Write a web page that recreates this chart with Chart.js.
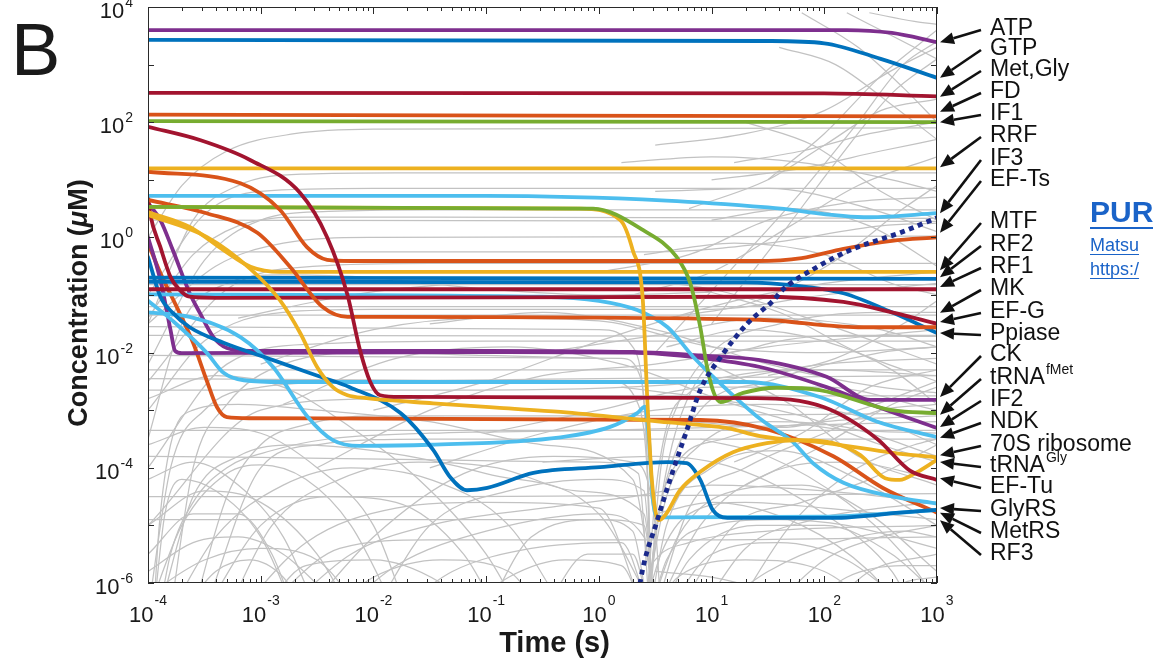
<!DOCTYPE html>
<html><head><meta charset="utf-8">
<script src="https://cdn.jsdelivr.net/npm/chart.js@4.4.1/dist/chart.umd.min.js"></script>
<style>html,body{margin:0;padding:0;background:#fff;overflow:hidden}#wrap{position:relative;width:1153px;height:663px}</style>
</head><body><div id="wrap"><canvas id="c" width="1153" height="663"></canvas></div>
<script>
// All series points are [log10(time in s), log10(concentration in µM)].
const atp     = [[-4,3.60],[2.2,3.60],[2.6,3.55],[3,3.39]];
const gtp     = [[-4,3.43],[1.5,3.41],[2,3.37],[2.5,3.1],[3,2.77]];
const metGly  = [[-4,2.51],[2,2.5],[3,2.45]];
const fdS     = [[-4,2.13],[3,2.10]];
const if1S    = [[-4,2.02],[3,2.0]];
const efTu    = [[-4,1.92],[-3.54,1.69],[-3.09,1.34],[-2.65,0.77],[-2.41,0.0],[-2.23,-1.0],[-2.12,-1.95],[-2.03,-2.5],[-1.94,-2.74],[-1.76,-2.77],[1.4,-2.79],[2.0,-2.95],[2.47,-3.5],[2.76,-4.05],[3,-4.21]];
const rrf     = [[-4,1.20],[3,1.20]];
const efTs    = [[-4,1.14],[-3.18,0.94],[-2.83,0.48],[-2.59,-0.17],[-2.41,-0.39],[-2.2,-0.41],[1.4,-0.41],[1.8,-0.36],[2.17,-0.2],[2.6,-0.06],[3,0.0]];
const if3     = [[-4,0.72],[-1,0.72],[0.6,0.64],[1.5,0.52],[2.4,0.35],[3,0.42]];
const tRNAGly = [[-4,0.53],[-0.17,0.50],[0.19,0.30],[0.30,-0.22],[0.39,-1.09],[0.43,-2.82],[0.47,-4.21],[0.53,-4.91],[0.59,-4.82],[0.72,-4.39],[0.9,-4.07],[1.19,-3.73],[1.49,-3.57],[1.79,-3.52],[2.08,-3.57],[2.32,-3.78],[2.54,-4.18],[2.67,-4.21],[2.81,-4.09],[3,-3.86]];
const tRNAfMet= [[-4,0.53],[-0.05,0.50],[0.39,0.13],[0.69,-0.34],[0.81,-0.79],[0.90,-1.56],[0.96,-2.25],[1.02,-2.70],[1.08,-2.86],[1.28,-2.70],[1.58,-2.61],[1.96,-2.65],[2.6,-3.0],[3,-3.05]];
const efG     = [[-4,0.65],[-3.48,0.42],[-3.03,0.08],[-2.74,-0.51],[-2.45,-1.21],[-2.23,-1.38],[-2.0,-1.38],[1.43,-1.43],[2.3,-1.56],[3,-1.56]];
const mtf     = [[-4,0.44],[-3.63,0.18],[-3.33,-0.22],[-3.09,-0.51],[-2.83,-0.60],[3,-0.60]];
const ribo70S = [[-4,0.39],[-3.48,0.01],[-3.09,-0.55],[-2.83,-1.09],[-2.65,-1.66],[-2.50,-2.25],[-2.36,-2.60],[-2.23,-2.74],[-2.06,-2.79],[-1.47,-2.88],[-0.88,-2.96],[-0.34,-3.03],[0.54,-3.2],[1.14,-3.31],[1.43,-3.45],[2.02,-3.57],[2.61,-3.74],[3,-3.82]];
const mk      = [[-4,0.7],[-3.98,0.4],[-3.89,-0.17],[-3.80,-0.69],[-3.72,-0.91],[-3.63,-1.03],[-3.4,-1.05],[1.4,-1.03],[2.17,-1.12],[2.6,-1.3],[3,-1.5]];
const rf1     = [[-4,-0.90],[3,-0.90]];
const rf2     = [[-4,-0.70],[3,-0.72]];
const ppiase  = [[-4,-0.77],[1.3,-0.78],[1.8,-0.85],[2.17,-0.97],[2.61,-1.31],[3,-1.66]];
const glyRS   = [[-4,-0.34],[-3.89,-1.03],[-3.78,-1.31],[-3.63,-1.56],[-3.33,-1.83],[-2.89,-2.13],[-2.47,-2.42],[-2.21,-2.6],[-1.76,-3.05],[-1.47,-3.69],[-1.32,-4.16],[-1.17,-4.39],[-0.99,-4.35],[-0.58,-4.09],[0.01,-3.99],[0.61,-3.90],[0.78,-3.92],[0.90,-4.21],[1.01,-4.73],[1.14,-4.87],[2.08,-4.87],[2.67,-4.78],[3,-4.73]];
const ndk     = [[-4,-1.1],[-3.78,-1.45],[-3.48,-2.0],[-3.33,-2.35],[-3.15,-2.48],[-2.8,-2.51],[1.3,-2.51],[1.96,-2.77],[2.47,-3.2],[3,-3.47]];
const metRS   = [[-4,-1.3],[-3.63,-1.38],[-3.18,-1.73],[-2.89,-2.25],[-2.59,-3.10],[-2.36,-3.52],[-2.12,-3.62],[-1.5,-3.60],[-0.34,-3.47],[0.10,-3.29],[0.34,-3.05],[0.41,-2.94],[0.44,-3.4],[0.48,-4.56],[0.52,-4.85],[0.6,-4.86],[2.0,-4.85],[2.67,-4.78],[3,-4.73]];
const rf3     = [[-4,-0.99],[-0.5,-1.03],[0.0,-1.1],[0.34,-1.26],[0.61,-1.56],[0.84,-2.08],[1.14,-2.65],[1.43,-3.15],[1.72,-3.55],[1.9,-3.92],[2.17,-4.26],[2.61,-4.5],[3,-4.62]];
const ck      = [[-4,0.6],[-3.89,0.30],[-3.78,-0.22],[-3.63,-0.97],[-3.54,-1.31],[-3.42,-1.73],[-3.30,-1.92],[-3.1,-1.97],[-1,-1.97],[0.3,-1.99],[0.9,-2.05],[1.43,-2.13],[2.02,-2.42],[2.41,-2.82],[3,-2.82]];
const if2     = [[-4,0.0],[-3.89,-0.74],[-3.80,-1.61],[-3.76,-1.97],[-3.7,-2.01],[-1,-1.99],[0.3,-2.0],[0.9,-2.09],[1.43,-2.25],[2.02,-2.6],[2.47,-2.94],[3,-3.31]];
const metRS2  = [[-4,-0.10],[-3.89,-0.62],[-3.72,-1.31],[-3.6,-1.83],[-3.48,-2.48],[-3.39,-2.94],[-3.30,-3.12],[-3.1,-3.14],[0.9,-3.17],[1.49,-3.33],[2.08,-3.8],[2.52,-4.35],[3,-4.78]];
const product = [[0.30,-7],[0.37,-5.95],[0.52,-4.9],[0.66,-4.04],[0.78,-3.35],[0.90,-2.65],[1.08,-2.08],[1.32,-1.49],[1.55,-1.09],[1.63,-0.91],[1.94,-0.51],[2.23,-0.22],[2.67,0.08],[3,0.34]];

// other species (grey)
const greyCurves = [
[[-4,0.0],[-3.7,0.9],[-3.3,1.5],[-2.7,1.8],[-2,1.88],[3,1.9]],
[[-4,-1.5],[-3.6,0.3],[-3.2,0.9],[-2.6,1.1],[-1.8,1.12],[3,1.12]],
[[-4,-2.2],[-3.5,-0.4],[-3,0.3],[-2.4,0.45],[-1.5,0.48],[3,0.48]],
[[-4,0.3],[3,0.28]],
[[-4,-1.5],[-3.4,-0.5],[-2.8,-0.1],[-2,0.0],[3,0.02]],
[[-4,-0.25],[0.5,-0.25],[1.5,-0.1],[2.5,0.2],[3,0.25]],
[[-4,-2.5],[-3.3,-0.9],[-2.5,-0.5],[-1.5,-0.45],[3,-0.45]],
[[-4,-0.82],[3,-0.82]],
[[-4,-1.2],[3,-1.2]],
[[-4,-3],[-3.5,-1.8],[-2.8,-1.3],[-2,-1.25],[1,-1.25],[2,-1.0],[3,-0.8]],
[[-4,-1.7],[3,-1.72]],
[[-4,-4],[-3.3,-2.2],[-2.5,-1.85],[-1,-1.8],[3,-1.8]],
[[-4,-2.3],[3,-2.3]],
[[-4,-2.65],[-1,-2.65],[1,-2.5],[2,-2.2],[3,-2.1]],
[[-4,-5],[-3,-3],[-2,-2.8],[0,-2.75],[3,-2.75]],
[[-4,-3.35],[3,-3.35]],
[[-3.5,-6.5],[-3,-4],[-2.5,-3.6],[-1.5,-3.5],[3,-3.5]],
[[-4,-4.5],[-1.2,-4.5],[3,-4.45]],
[[-3,-6.5],[-2.3,-5.4],[-1.5,-5.25],[1,-5.25],[3,-5.2]],
[[-4,-1],[-3.5,0.4],[-3,0.8],[-2,0.85],[3,0.85]],
[[-4,-1.35],[3,-1.35]],
[[-4,-6.5],[-3.8,-4],[-3.5,-3],[-3,-2.6],[-2,-2.5],[0,-2.45],[3,-2.4]],
[[-3.9,-6.5],[-3.6,-4.5],[-3.2,-3.8],[-2.7,-3.6],[-2,-3.7],[-1,-4.1],[0,-4.8],[0.5,-6.5]],
[[-4,-6.5],[-3.7,-5],[-3.3,-4.1],[-3.0,-3.95],[-2.6,-4.2],[-2.2,-5],[-1.8,-6.5]],
[[-3.8,-6.5],[-3.4,-5.2],[-2.8,-4.3],[-2.2,-4.0],[-1.5,-4.2],[-0.8,-5],[-0.3,-6.5]],
[[-3.5,-6.5],[-3,-5.0],[-2.4,-4.5],[-1.8,-4.6],[-1.2,-5.5],[-0.9,-6.5]],
[[-3.2,-6.5],[-2.6,-5.3],[-1.8,-4.7],[-1,-4.6],[0,-4.7],[0.4,-6.5]],
[[-2.8,-6.5],[-2.2,-5.5],[-1.5,-5],[-0.5,-4.7],[0.3,-4.5],[1,-4.3],[2,-4.4],[3,-4.6]],
[[-2.3,-6.5],[-1.8,-5.7],[-1,-5.1],[0,-4.8],[0.4,-5.2],[0.5,-6.5]],
[[-1.8,-6.5],[-1.3,-5.8],[-0.6,-5.4],[0.2,-5.3],[0.45,-6.5]],
[[-4,-6.2],[-3.5,-5.6],[-3,-5.4],[-2.5,-5.6],[-2.1,-6.5]],
[[-3.9,-6.5],[-3.8,-5.5],[-3.6,-4.6],[-3.3,-4.0],[-2.9,-3.7],[-2.4,-3.5],[-1.5,-3.4],[0,-3.35],[3,-3.2]],
[[-3.7,-6.5],[-3.4,-5.8],[-3.1,-5.6],[-2.8,-5.9],[-2.6,-6.5]],
[[-1.2,-6.5],[-0.8,-5.9],[-0.3,-5.6],[0.2,-5.7],[0.4,-6.5]],
[[-4,-5.5],[-3.6,-4.8],[-3.2,-4.8],[-2.9,-5.5],[-2.7,-6.5]],
[[-3.95,-6.5],[-3.9,-5],[-3.8,-3.6],[-3.6,-3.0],[-3.2,-2.9],[-2.5,-3.0],[-1.5,-3.2],[-0.5,-3.6],[0.3,-4.2],[0.5,-6.5]],
[[-3.6,-6.5],[-3.3,-4.5],[-3.0,-3.6],[-2.6,-3.25],[-2,-3.1],[0,-3.1],[3,-3.05]],
[[-4,-3.6],[-3.5,-3.3],[-3,-3.4],[-2.5,-4],[-2,-5],[-1.7,-6.5]],
[[-4,-2.8],[-3.4,-2.4],[-2.8,-2.6],[-2.2,-3.3],[-1.6,-4.2],[-1.0,-5.5],[-0.7,-6.5]],
[[-2.6,-6.5],[-2.0,-5.2],[-1.2,-4.1],[-0.4,-3.8],[0.3,-3.9],[0.5,-5],[0.55,-6.5]],
[[0.45,-6.5],[0.7,-5.2],[1.2,-4.4],[1.8,-4.3],[2.4,-4.8],[3,-5.8]],
[[0.5,-6.5],[0.9,-5.0],[1.5,-4.1],[2.2,-3.9],[3,-4.2]],
[[0.55,-6.5],[0.8,-5.6],[1.4,-5.0],[2.0,-5.0],[2.6,-5.5],[3,-6.2]],
[[0.6,-6.5],[1.0,-5.5],[1.6,-5.3],[2.2,-5.6],[2.8,-6.5]],
[[0.4,-6.5],[0.6,-4.5],[0.9,-3.6],[1.5,-3.2],[2.2,-3.3],[3,-3.8]],
[[0.45,-6.5],[0.6,-5.0],[1.0,-4.0],[1.6,-3.7],[2.3,-4.2],[3,-5.0]],
[[0.5,-6.5],[0.8,-4.7],[1.3,-4.0],[2,-3.4],[2.5,-3.0],[3,-2.9]],
[[1.5,-6.5],[2.0,-5.6],[2.5,-5.2],[3,-5.0]],
[[2.0,-6.5],[2.4,-5.8],[3,-5.5]],
[[0.4,-6.5],[0.55,-5.5],[0.8,-4.8],[1.3,-4.6],[2,-4.7],[3,-4.9]],
[[1.0,-6.5],[1.5,-5.8],[2.1,-5.3],[2.7,-5.1],[3,-5.2]],
[[0.9,-3.5],[1.5,-3.8],[2.2,-4.6],[2.7,-5.5],[3,-6.3]],
[[-0.5,-3.9],[0.5,-3.8],[1.2,-4.0],[2,-4.8],[2.6,-5.8],[2.8,-6.5]],
[[0.7,-6.5],[1.2,-5.0],[1.8,-4.6],[2.4,-4.2],[3,-3.6]],
[[1.2,-6.5],[1.7,-5.0],[2.3,-4.0],[2.8,-3.6],[3,-3.5]],
[[0.5,-5.8],[1.0,-5.9],[1.6,-6.2],[2.0,-6.5]],
[[-4,-2.05],[0.2,-2.1],[0.38,-2.5],[0.43,-4],[0.46,-6.5]],
[[-4,-3.8],[0,-3.9],[0.35,-4.1],[0.45,-6.5]],
[[-4,-1.55],[0,-1.6],[0.3,-1.9],[0.42,-3.5],[0.47,-6.5]],
[[0.42,-6.5],[0.5,-4.5],[0.6,-3.3],[0.8,-2.7],[1.2,-2.4],[2,-2.3],[3,-2.4]],
[[0.44,-6.5],[0.55,-4.0],[0.7,-2.9],[1.0,-2.0],[1.6,-1.5],[2.5,-1.3],[3,-1.3]],
[[0.43,-6.5],[0.5,-5.2],[0.6,-4.2],[0.9,-3.0],[1.5,-2.5],[2.5,-2.0],[3,-1.9]],
[[0.5,-2],[1.2,-0.5],[1.8,0.8],[2.3,2.0],[2.7,3.0],[3,3.4]],
[[1.0,-1.5],[1.6,0.0],[2.1,1.3],[2.6,2.5],[3,3.1]],
[[0.8,0.5],[1.5,1.0],[2.0,1.6],[2.5,2.2],[3,2.4]],
[[1.5,1.0],[2.0,1.8],[2.5,2.8],[3,3.6]],
[[1.8,3.9],[2.3,3.3],[2.7,2.6],[3,2.0]],
[[1.3,2.0],[1.9,1.6],[2.5,0.8],[3,0.3]],
[[0.3,-1.0],[1.0,-0.6],[1.7,0.2],[2.3,0.9],[3,1.4]],
[[0.0,-0.6],[0.8,-0.3],[1.5,0.3],[2.2,0.6],[3,0.7]],
[[1.0,0.3],[1.7,0.5],[2.4,0.2],[3,-0.5]],
[[0.6,-1.4],[1.4,-1.1],[2.1,-0.4],[2.7,0.5],[3,0.9]],
[[2.2,3.9],[2.6,3.5],[3,3.1]],
[[1.2,1.3],[1.8,1.5],[2.4,1.8],[3,2.0]],
[[0.5,0.8],[1.5,0.85],[2.4,0.5],[3,0.1]],
[[-2,-3],[-1,-2.5],[0,-1.8],[1,-1.2],[2,-0.8],[3,-0.6]],
[[-1.5,-1.5],[-0.5,-1.3],[0.5,-1.6],[1.5,-2.2],[2.5,-2.6],[3,-2.7]],
[[-3,-2.2],[-2,-1.6],[-1,-1.4],[0,-1.45],[1,-1.9],[2,-2.0],[3,-1.9]],
[[-2.5,-4.0],[-1.5,-3.0],[-0.5,-2.4],[0.5,-2.2],[1.5,-1.9],[3,-1.6]],
[[-1,-3.4],[0,-3.0],[1,-2.6],[2,-2.6],[3,-3.0]],
[[-3.2,-1.4],[-2.2,-1.0],[-1.2,-0.8],[0,-0.75],[1,-0.9],[2,-1.5],[3,-2.2]],
[[-0.5,-2.0],[0.5,-1.7],[1.5,-1.4],[2.5,-1.6],[3,-1.9]],
[[-2.8,-2.9],[-1.8,-2.1],[-0.8,-1.9],[0.2,-2.2],[1.2,-2.9],[2,-3.3],[3,-3.4]],
[[-3.8,-6.5],[-3.6,-4],[-3.3,-2.9],[-2.8,-2.2],[-2,-2.0],[-1,-2.05],[0,-2.1]],
[[-1.5,-4.0],[-0.5,-3.4],[0.5,-3.0],[1.5,-2.9],[2.5,-3.2],[3,-3.6]],
[[-4,-1.4],[-3.6,-0.3],[-3.2,0.2],[-2.6,0.35],[-1.5,0.35],[3,0.33]],
[[-4,-3.5],[-3.7,-1.5],[-3.3,-0.8],[-2.8,-0.65],[-2,-0.7],[-1,-0.9],[0,-1.0],[1,-0.95]],
[[1.0,-2.2],[1.7,-2.9],[2.3,-3.8],[3,-4.3]],
[[1.3,-4.3],[2.0,-3.6],[2.6,-2.9],[3,-2.6]],
[[0.8,-3.2],[1.6,-3.3],[2.3,-3.0],[3,-2.5]],
[[-4,-4.2],[-3.6,-3.9],[-3.2,-4.3],[-2.8,-5.2],[-2.5,-6.5]],
[[-3.95,-6.5],[-3.85,-4.8],[-3.7,-4.2],[-3.4,-4.4],[-3.0,-5.2],[-2.7,-6.5]],
[[-3.3,-6.5],[-2.9,-5.0],[-2.3,-4.2],[-1.6,-3.9],[-0.9,-4.0],[-0.2,-4.4],[0.4,-4.8],[0.5,-6.5]],
[[-2.0,-6.5],[-1.5,-5.0],[-0.8,-4.4],[0,-4.2],[0.4,-4.4],[0.48,-6.5]],
[[-1.0,-6.5],[-0.6,-5.2],[0,-4.9],[0.4,-5.0],[0.5,-6.5]],
[[-0.5,-6.5],[-0.1,-5.5],[0.3,-5.5],[0.45,-6.5]],
[[-4,-5.0],[-3.5,-4.4],[-3.0,-4.6],[-2.5,-5.5],[-2.2,-6.5]],
[[-3.0,-6.5],[-2.6,-5.7],[-2.0,-5.6],[-1.4,-6.0],[-1.1,-6.5]],
[[-2.4,-6.5],[-2.0,-5.9],[-1.4,-5.6],[-0.8,-5.8],[-0.5,-6.5]],
[[-4,-5.8],[-3.6,-5.3],[-3.2,-5.2],[-2.8,-5.5],[-2.4,-6.2],[-2.2,-6.5]],
[[0.46,-6.5],[0.6,-5.6],[1.0,-5.0],[1.6,-4.9],[2.2,-5.0],[3,-5.4]],
[[0.48,-6.5],[0.7,-5.9],[1.3,-5.6],[2.0,-5.8],[2.5,-6.5]],
[[1.8,-6.5],[2.2,-5.9],[2.7,-5.7],[3,-5.7]],
[[0.9,-6.5],[1.3,-5.4],[1.9,-4.9],[2.5,-4.7],[3,-4.6]],
[[0.5,-4.8],[1.0,-4.6],[1.8,-5.0],[2.4,-5.8],[2.7,-6.5]],
[[2.4,-6.5],[2.7,-6.0],[3,-5.9]],
[[0.2,-2.6],[1.0,-2.8],[1.8,-3.1],[2.5,-3.6],[3,-3.9]],
[[0.6,-1.9],[1.3,-1.6],[2.0,-1.8],[2.6,-2.3],[3,-2.9]],
[[1.2,-3.9],[1.8,-3.4],[2.4,-2.6],[3,-2.3]],
[[0.9,-0.9],[1.6,-1.3],[2.3,-2.0],[3,-2.5]],
[[1.5,-2.4],[2.1,-2.1],[2.7,-1.5],[3,-1.1]],
[[0.4,-0.3],[1.2,-0.1],[2.0,-0.3],[2.6,-0.8],[3,-1.0]],
[[0.5,1.6],[1.3,1.8],[2.0,2.2],[2.6,2.9],[3,3.3]],
[[1.6,3.3],[2.1,3.0],[2.6,2.3],[3,1.7]],
[[1.0,1.0],[1.8,1.2],[2.5,1.5],[3,1.7]],
[[2.4,3.9],[2.8,3.75],[3,3.7]],
[[0.2,1.3],[1.0,1.4],[1.8,1.3],[2.6,1.0],[3,0.8]],
[[-4,-2.45],[0.1,-2.5],[0.35,-2.9],[0.44,-4.5],[0.47,-6.5]],
[[0.43,-6.5],[0.48,-5.5],[0.55,-4.6],[0.7,-3.9],[1.1,-3.5],[2,-3.2],[3,-3.1]],
[[0.44,-6.5],[0.52,-5.0],[0.65,-3.6],[0.9,-2.4],[1.4,-1.9],[2.2,-1.7],[3,-1.7]],
[[-4,-4.9],[0,-4.9],[0.3,-5.1],[0.44,-6.5]],
[[0.41,-6.5],[0.45,-5.8],[0.5,-5.6],[0.8,-5.3],[1.5,-5.1],[3,-5.0]]
];

// Tick label exponents
const xTickExps = [-4,-3,-2,-1,0,1,2,3];
const yTickExps = [4,2,0,-2,-4,-6];

// Right-hand annotation labels and the log10 concentration their arrows point to at t = 10^3 s
const annLabels = ['ATP','GTP','Met,Gly','FD','IF1','RRF','IF3','EF-Ts','MTF','RF2','RF1','MK','EF-G','Ppiase','CK','tRNA^fMet','IF2','NDK','70S ribosome','tRNA^Gly','EF-Tu','GlyRS','MetRS','RF3'];
const annTipLog = [3.39,2.77,2.44,2.18,2.0,1.22,0.42,0.08,-0.57,-0.69,-0.86,-1.31,-1.47,-1.66,-2.77,-3.08,-3.29,-3.48,-3.78,-3.90,-4.18,-4.70,-4.78,-4.91];
// layout: vertical text centres of the labels (px)
const annTextY = [27,47,68,90,112,134,157,178,220,243,265,287,310,332,353,376,398,420,443,464,485,508,530,552];

const C = {blue:'#0072BD',orange:'#D95319',yellow:'#EDB120',purple:'#7E2F8E',green:'#77AC30',lblue:'#4DBEEE',dred:'#A2142F'};
const coloured = [
 [atp,C.purple],[gtp,C.blue],[metGly,C.dred],[fdS,C.orange],[if1S,C.green],[efTu,C.dred],[rrf,C.yellow],
 [efTs,C.orange],[if3,C.lblue],[tRNAfMet,C.green],[tRNAGly,C.yellow],[efG,C.orange],[mtf,C.yellow],
 [ribo70S,C.yellow],[mk,C.dred],[rf1,C.dred],[rf2,C.blue],[ppiase,C.blue],[glyRS,C.blue],[ndk,C.lblue],
 [metRS,C.lblue],[rf3,C.lblue],[ck,C.purple],[if2,C.purple],[metRS2,C.orange]
];

const toXY = a => a.map(p => ({x: Math.pow(10,p[0]), y: Math.pow(10,p[1])}));
const datasets = [];
greyCurves.forEach(g => datasets.push({data: toXY(g), borderColor:'rgb(194,194,194)', borderWidth:1.25, pointRadius:0, cubicInterpolationMode:'monotone', order:3, fill:false}));
coloured.forEach(([d,c]) => datasets.push({data: toXY(d), borderColor:c, borderWidth:3.8, pointRadius:0, cubicInterpolationMode:'monotone', order:2, fill:false, borderCapStyle:'round'}));
datasets.push({data: toXY(product), borderColor:'#1B2A8C', borderWidth:4.8, borderDash:[5,4.5], pointRadius:0, cubicInterpolationMode:'monotone', order:1, fill:false});

const FONT = '"Liberation Sans", Arial, Helvetica, sans-serif';

function pow10Label(ctx, exp, x, yBase, size, supSize, rise, align) {
  ctx.font = size + 'px ' + FONT;
  const w1 = ctx.measureText('10').width;
  ctx.font = supSize + 'px ' + FONT;
  const e = String(exp);
  const w2 = ctx.measureText(e).width;
  const tot = w1 + 1 + w2;
  let x0 = align === 'right' ? x - tot : x - tot/2;
  ctx.textAlign = 'left';
  ctx.font = size + 'px ' + FONT;
  ctx.fillText('10', x0, yBase);
  ctx.font = supSize + 'px ' + FONT;
  ctx.fillText(e, x0 + w1 + 1, yBase - rise);
}

const decor = {
  id:'decor',
  afterDatasetsDraw(chart) {
    const {ctx, chartArea:a, scales:{x, y}} = chart;
    ctx.save();
    ctx.strokeStyle = '#2a2a2a'; ctx.lineWidth = 1;
    ctx.strokeRect(a.left+0.5, a.top+0.5, a.right-a.left-1, a.bottom-a.top-1);
    ctx.beginPath();
    for (let k=-4; k<=3; k++) {
      const px = Math.round(x.getPixelForValue(Math.pow(10,k)))+0.5;
      ctx.moveTo(px, a.bottom); ctx.lineTo(px, a.bottom-7);
      ctx.moveTo(px, a.top); ctx.lineTo(px, a.top+7);
      if (k<3) for (let m=2; m<=9; m++) {
        const pm = Math.round(x.getPixelForValue(m*Math.pow(10,k)))+0.5;
        ctx.moveTo(pm, a.bottom); ctx.lineTo(pm, a.bottom-4);
        ctx.moveTo(pm, a.top); ctx.lineTo(pm, a.top+4);
      }
    }
    for (let k=-6; k<=4; k++) {
      const py = Math.round(y.getPixelForValue(Math.pow(10,k)))+0.5;
      ctx.moveTo(a.left, py); ctx.lineTo(a.left+6, py);
      ctx.moveTo(a.right, py); ctx.lineTo(a.right-6, py);
    }
    ctx.stroke();
    ctx.restore();
  },
  afterDraw(chart) {
    const {ctx, chartArea:a, scales:{x, y}} = chart;
    ctx.save();
    ctx.fillStyle = '#1a1a1a';
    ctx.textBaseline = 'alphabetic';
    // tick labels
    xTickExps.forEach(k => pow10Label(ctx, k, x.getPixelForValue(Math.pow(10,k)), 622, 22, 14, 17, 'center'));
    yTickExps.forEach(k => { const py = y.getPixelForValue(Math.pow(10,k)); pow10Label(ctx, k, a.left-15, py+11, 22, 14, 11, 'right'); });
    // axis titles
    ctx.font = 'bold 29px ' + FONT; ctx.textAlign = 'center';
    ctx.fillText('Time (s)', (a.left+a.right)/2 + 12, 652);
    ctx.save();
    ctx.translate(87, 303); ctx.rotate(-Math.PI/2);
    const p1 = 'Concentration (', p2 = '\u03BC', p3 = 'M)';
    ctx.font = 'bold 27px ' + FONT; const w1 = ctx.measureText(p1).width, w3 = ctx.measureText(p3).width;
    ctx.font = 'italic bold 27px ' + FONT; const w2 = ctx.measureText(p2).width;
    let sx = -(w1+w2+w3)/2; ctx.textAlign='left';
    ctx.font = 'bold 27px ' + FONT; ctx.fillText(p1, sx, 0);
    ctx.font = 'italic bold 27px ' + FONT; ctx.fillText(p2, sx+w1, 0);
    ctx.font = 'bold 27px ' + FONT; ctx.fillText(p3, sx+w1+w2, 0);
    ctx.restore();
    // panel letter
    ctx.font = '74px ' + FONT; ctx.textAlign = 'left';
    ctx.fillText('B', 11, 75);
    // annotations
    const lx = 990;
    ctx.strokeStyle = '#111'; ctx.fillStyle = '#111'; ctx.lineWidth = 2.6;
    annLabels.forEach((lab, i) => {
      const cy = annTextY[i];
      const parts = lab.split('^');
      ctx.font = '23px ' + FONT; ctx.textAlign='left';
      ctx.fillText(parts[0], lx, cy + 8);
      if (parts[1]) {
        const w = ctx.measureText(parts[0]).width;
        ctx.font = '14px ' + FONT;
        ctx.fillText(parts[1], lx + w + 1, cy - 2);
      }
      const tx = a.right + 3, ty = y.getPixelForValue(Math.pow(10, annTipLog[i]));
      const sx0 = lx - 9, sy0 = cy + 3;
      const ang = Math.atan2(ty - sy0, tx - sx0);
      const hl = 14, hw = 6;
      const bx = tx - hl*Math.cos(ang), by = ty - hl*Math.sin(ang);
      ctx.beginPath(); ctx.moveTo(sx0, sy0); ctx.lineTo(bx, by); ctx.stroke();
      ctx.beginPath();
      ctx.moveTo(tx, ty);
      ctx.lineTo(bx + hw*Math.sin(ang), by - hw*Math.cos(ang));
      ctx.lineTo(bx - hw*Math.sin(ang), by + hw*Math.cos(ang));
      ctx.closePath(); ctx.fill();
    });
    // link text at right edge
    ctx.fillStyle = '#1a63c8'; ctx.strokeStyle = '#1a63c8';
    ctx.font = 'bold 30px ' + FONT; ctx.fillText('PUR', 1090, 222);
    ctx.fillRect(1090, 227, 70, 2);
    ctx.font = '18px ' + FONT;
    ctx.fillText('Matsu', 1090, 251);
    ctx.fillRect(1090, 254, ctx.measureText('Matsu').width, 1);
    ctx.fillText('https:/', 1090, 275);
    ctx.fillRect(1090, 278, ctx.measureText('https:/').width, 1);
    ctx.restore();
  }
};

new Chart(document.getElementById('c'), {
  type:'line',
  data:{datasets},
  options:{
    responsive:false, devicePixelRatio:1, animation:false, events:[],
    layout:{padding:{left:148, top:7, right:216, bottom:80}},
    scales:{
      x:{type:'logarithmic', min:1e-4, max:1e3, display:false},
      y:{type:'logarithmic', min:1e-6, max:1e4, display:false}
    },
    plugins:{legend:{display:false}, tooltip:{enabled:false}}
  },
  plugins:[decor]
});
</script></body></html>
